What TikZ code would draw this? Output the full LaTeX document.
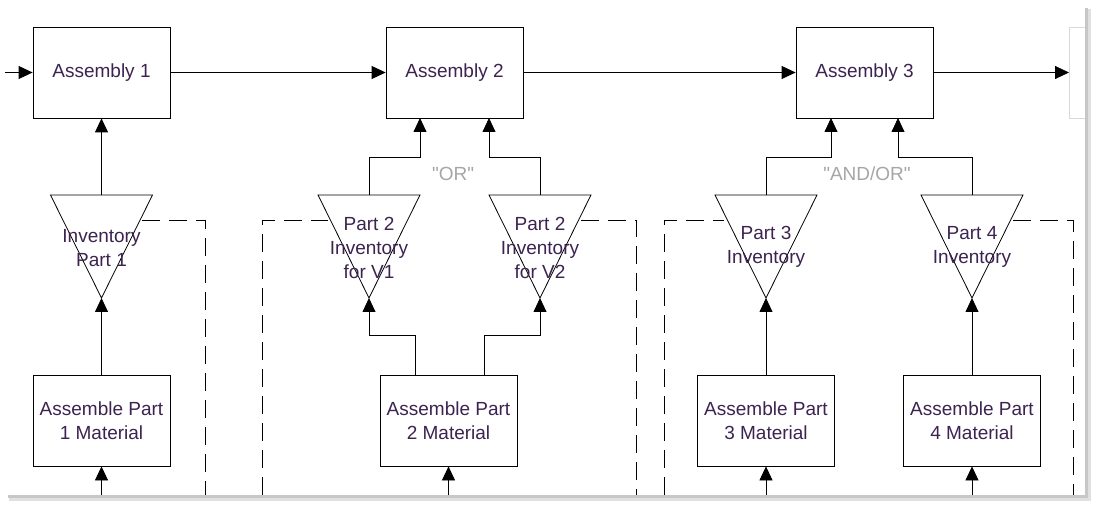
\documentclass[tikz,border=0pt]{standalone}
\usepackage{fontspec}
\setmainfont{Liberation Sans}
\usetikzlibrary{positioning,arrows.meta,calc}
\definecolor{textpurple}{RGB}{60,35,80}

\tikzset{
  stage/.style={draw, thick, minimum width=137pt, minimum height=91pt, align=center,
    text=textpurple, font=\fontsize{19}{24}\selectfont},
  inv/.style={align=center, text=textpurple, font=\fontsize{19}{24}\selectfont},
  flow/.style={thick, -{Triangle[length=14pt,width=13pt]}},
  group/.style={thick, dash pattern=on 18pt off 9pt},
  note/.style={text=black!35, font=\fontsize{19}{22}\selectfont}
}
% inverted triangle: name, apex x
\newcommand{\invtri}[2]{%
  \draw[thick] (#2-51,195) -- (#2+51,195) -- (#2,298) -- cycle;
  \coordinate (#1t) at (#2,195);
  \coordinate (#1a) at (#2,298);}

\begin{document}
\begin{tikzpicture}[x=1pt, y=-1pt]
        \useasboundingbox (0,0) rectangle (1100,510);
        % Page
        \fill[black!12] (9,9) rectangle (1091,501);
        \fill[black!22] (8,8) rectangle (1088,498);
        \fill[white] (5,5) rectangle (1085,495);
        \draw[black!15] (1085,27) -- (1069,27) -- (1069,118) -- (1085,118);

        % Assemblies
        \node[stage] (asm1) at (101.5,72.5) {Assembly 1};
        \node[stage] (asm2) at (454.5,72.5) {Assembly 2};
        \node[stage] (asm3) at (864.5,72.5) {Assembly 3};
        \coordinate (in) at (5,72.5);
        \coordinate (out) at (1069,72.5);
        \draw[flow] (in) -- (asm1);
        \draw[flow] (asm1) -- (asm2);
        \draw[flow] (asm2) -- (asm3);
        \draw[flow] (asm3) -- (out);

        % Inventories
        \invtri{inv1}{101.5}
        \invtri{inv2a}{369}
        \invtri{inv2b}{540}
        \invtri{inv3}{766}
        \invtri{inv4}{972}
        \node[inv] (t1) at (101.5,248) {Inventory\\Part 1};
        \node[inv] (t2a) at (369,248) {Part 2\\Inventory\\for V1};
        \node[inv] (t2b) at (540,248) {Part 2\\Inventory\\for V2};
        \node[inv] (t3) at (766,247) {Part 3\\Inventory};
        \node[inv] (t4) at (972,247) {Part 4\\Inventory};

        % Material steps
        \node[stage] (mat1) at (101.5,420.5) {Assemble Part\\1 Material};
        \node[stage] (mat2) at (448.5,420.5) {Assemble Part\\2 Material};
        \node[stage] (mat3) at (766,420.5) {Assemble Part\\3 Material};
        \node[stage] (mat4) at (972,420.5) {Assemble Part\\4 Material};

        % Up into assemblies
        \draw[flow] (inv1t) -- (asm1);
        \draw[flow] (inv2at) |- (420,157) -- (420,118);
        \draw[flow] (inv2bt) |- (489,157) -- (489,118);
        \draw[flow] (inv3t) |- (831,157) -- (831,118);
        \draw[flow] (inv4t) |- (898,157) -- (898,118);
        \node[note] (or) at (453,174) {\textquotedbl OR\textquotedbl};
        \node[note] (andor) at (867,174) {\textquotedbl AND/OR\textquotedbl};

        % Up into inventories
        \draw[flow] (mat1) -- (inv1a);
        \draw[flow] (415,375) |- (369,335) -- (inv2aa);
        \draw[flow] (484,375) |- (540,335) -- (inv2ba);
        \draw[flow] (mat3) -- (inv3a);
        \draw[flow] (mat4) -- (inv4a);
        \foreach \m in {1,2,3,4}
          \draw[flow] (mat\m.south |- 0,495) -- (mat\m);

        % Groups
        \draw[group] (142,220) -- (205,220) -- (205,495);
        \draw[group] (262,495) -- (262,220) -- (328,220);
        \draw[group] (581,220) -- (636,220) -- (636,495);
        \draw[group] (664,495) -- (664,220) -- (724,220);
        \draw[group] (1013,220) -- (1073,220) -- (1073,495);
    \end{tikzpicture}
\end{document}
